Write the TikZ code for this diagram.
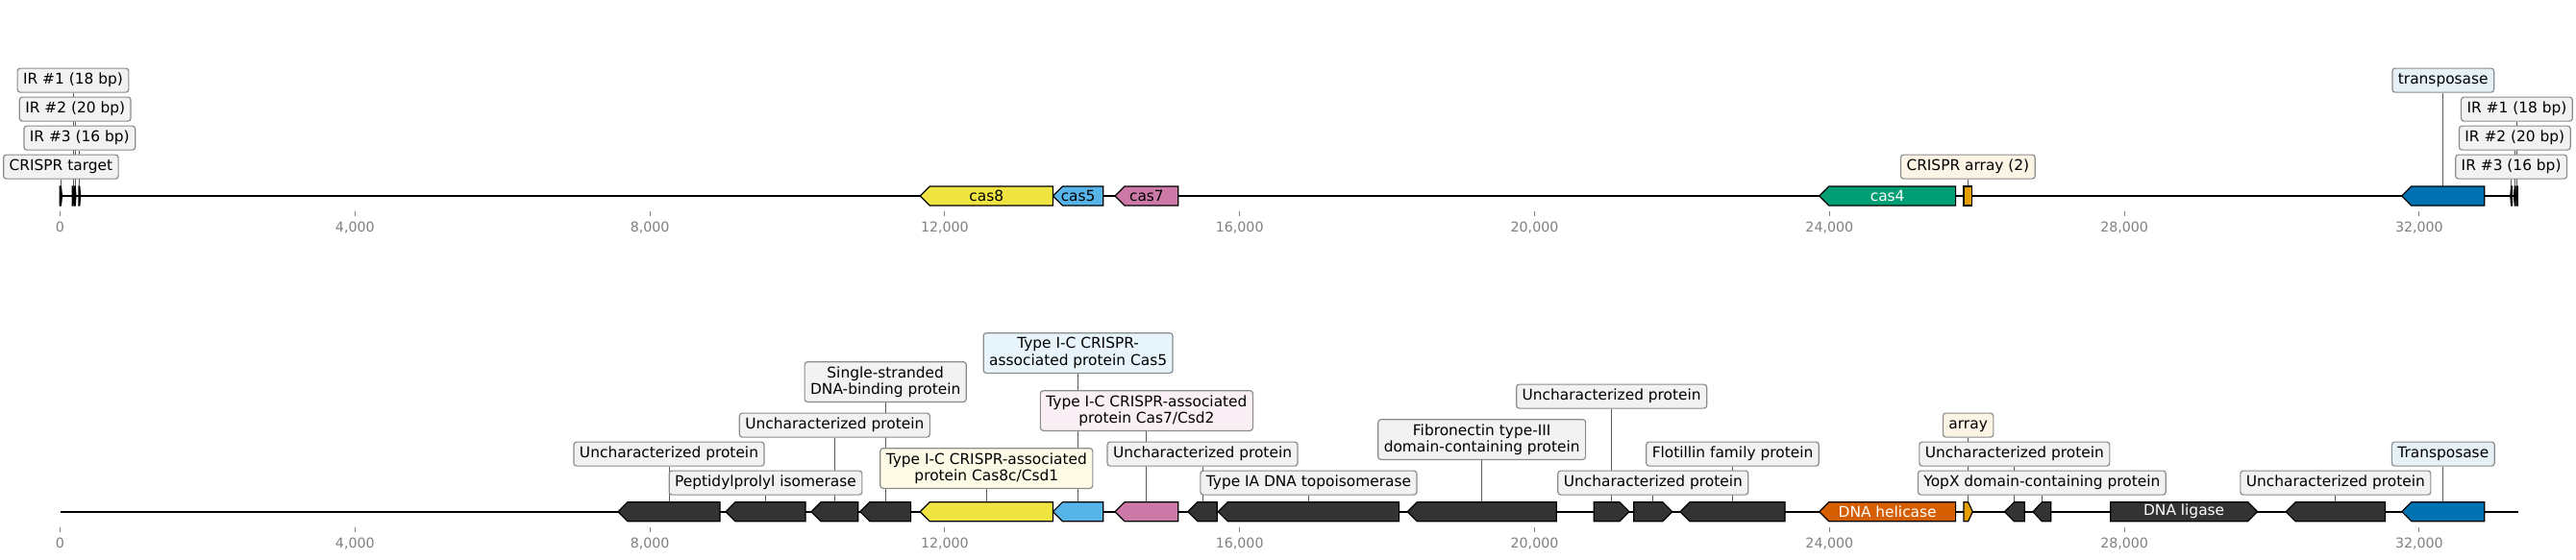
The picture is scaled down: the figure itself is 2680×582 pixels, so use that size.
\documentclass[tikz,border=0pt]{standalone}
\usepackage{fontspec}
\setmainfont{DejaVu Sans}
\definecolor{cyel}{HTML}{F0E442}
\definecolor{cblu}{HTML}{56B4E9}
\definecolor{cpnk}{HTML}{CC79A7}
\definecolor{cgrn}{HTML}{009E73}
\definecolor{cdbl}{HTML}{0072B2}
\definecolor{corg}{HTML}{E69F00}
\definecolor{cver}{HTML}{D55E00}
\definecolor{cdrk}{HTML}{333333}
\definecolor{boxedge}{HTML}{8C8C8C}
\definecolor{boxgray}{HTML}{F2F2F2}
\definecolor{tickgray}{HTML}{808080}
\colorlet{c8bg}{cyel!13!white}
\colorlet{c5bg}{cblu!14!white}
\colorlet{c7bg}{cpnk!12!white}
\colorlet{arrbg}{corg!10!white}
\colorlet{trbg}{cdbl!10!white}
\pgfdeclarelayer{bg}
\pgfdeclarelayer{paper}
\pgfsetlayers{paper,bg,main}
\tikzset{
  labbase/.style={draw=boxedge, line width=1.2pt, rounded corners=3pt, fill=boxgray,
    inner xsep=6pt, inner ysep=0pt, anchor=south, font=\fontsize{15.4}{17.5}\selectfont},
  lab/.style={labbase, minimum height=25pt, text height=11.6pt, text depth=3.6pt},
  labtwo/.style={labbase, minimum height=41.7pt, align=center},
  conn/.style={draw=black!65, line width=0.9pt},
  gene/.style={draw=black, line width=1.2pt, line join=miter},
  gtext/.style={font=\fontsize{15.4}{17.5}\selectfont, inner sep=0pt},
  track/.style={draw=black, line width=2.2pt},
  tickmark/.style={draw=tickgray, line width=0.9pt},
  ticklab/.style={font=\fontsize{14.2}{16}\selectfont, text=tickgray, inner sep=0pt},
}
\newcommand{\geneL}[5]{%
  \pgfmathsetmacro{\ghd}{min(10,0.5*(#3-#2))}%
  \filldraw[gene, fill=#5] (#2,#4) -- ({#2+\ghd},{#4-10}) -- (#3,{#4-10}) -- (#3,{#4+10}) -- ({#2+\ghd},{#4+10}) -- cycle;%
  \coordinate (#1) at ({(#2+#3)/2},{#4-10});%
}
\newcommand{\geneR}[5]{%
  \pgfmathsetmacro{\ghd}{min(10,0.5*(#3-#2))}%
  \filldraw[gene, fill=#5] (#2,{#4-10}) -- ({#3-\ghd},{#4-10}) -- (#3,#4) -- ({#3-\ghd},{#4+10}) -- (#2,{#4+10}) -- cycle;%
  \coordinate (#1) at ({(#2+#3)/2},{#4-10});%
}
\newcommand{\geneN}[5]{%
  \filldraw[gene, fill=#5] (#2,{#4-10}) rectangle (#3,{#4+10});%
  \coordinate (#1) at ({(#2+#3)/2},{#4-10});%
}
\begin{document}
\begin{tikzpicture}[x=1pt, y=-1pt]
\begin{pgfonlayer}{paper}
\fill[white] (0,0) rectangle (2680,582);
\end{pgfonlayer}
\useasboundingbox (0,0) rectangle (2680,582);

% ---------------- top track ----------------
\draw[track] (62.5,204) coordinate (tstart) -- (2619.5,204) coordinate (tend);
\foreach \i/\t in {0/0,1/{4,000},2/{8,000},3/{12,000},4/{16,000},5/{20,000},6/{24,000},7/{28,000},8/{32,000}}{
  \draw[tickmark] ({62.5+\i*306.8},220) -- ({62.5+\i*306.8},225);
  \node[ticklab] (tl\i) at ({62.5+\i*306.8},236.7) {\t};
}
\geneR{gCT}{62.3}{64.5}{204}{black}
\geneR{gIRa}{75.2}{76.8}{204}{black}
\geneR{gIRb}{77.4}{79.0}{204}{black}
\geneR{gIRc}{82.0}{83.6}{204}{black}
\geneL{gT8}{957.2}{1095.4}{204}{cyel}
\geneL{gT5}{1095.4}{1147.8}{204}{cblu}
\geneL{gT7}{1160}{1225.8}{204}{cpnk}
\geneL{gT4}{1892.7}{2034.6}{204}{cgrn}
\geneN{gTA}{2043}{2051.7}{204}{corg}
\geneL{gTT}{2498.8}{2584.7}{204}{cdbl}
\geneL{gIRd}{2611.8}{2613.4}{204}{black}
\geneL{gIRe}{2615.5}{2617.1}{204}{black}
\geneL{gIRf}{2617.6}{2619.2}{204}{black}

\node[gtext] (x8) at ([yshift=-10pt]gT8) {cas8};
\node[gtext] (x5) at ([yshift=-10pt]gT5) {cas5};
\node[gtext] (x7) at ([yshift=-10pt]gT7) {cas7};
\node[gtext, text=white] (x4) at ([yshift=-10pt]gT4) {cas4};

\node[lab] (lCT) at ([yshift=7.3pt]gCT) {CRISPR target};
\node[lab] (lIRc) at ([yshift=37.3pt]gIRc) {IR \#3 (16 bp)};
\node[lab] (lIRb) at ([yshift=67.3pt]gIRb) {IR \#2 (20 bp)};
\node[lab] (lIRa) at ([yshift=97.3pt]gIRa) {IR \#1 (18 bp)};
\node[lab, fill=arrbg] (lTA) at ([yshift=7.3pt]gTA) {CRISPR array (2)};
\node[lab, fill=trbg] (lTT) at ([yshift=97.3pt]gTT) {transposase};
\node[lab] (lIRd) at ([yshift=7.3pt]gIRd) {IR \#3 (16 bp)};
\node[lab] (lIRe) at ([yshift=37.3pt]gIRe) {IR \#2 (20 bp)};
\node[lab] (lIRf) at ([yshift=67.3pt]gIRf) {IR \#1 (18 bp)};

\begin{pgfonlayer}{bg}
\foreach \a/\b in {lCT/gCT,lIRc/gIRc,lIRb/gIRb,lIRa/gIRa,lTA/gTA,lTT/gTT,lIRd/gIRd,lIRe/gIRe,lIRf/gIRf}{
  \draw[conn] (\a.south) -- (\b);
}
\end{pgfonlayer}

% ---------------- bottom track ----------------
\draw[track] (62.5,532.7) coordinate (bstart) -- (2619.5,532.7) coordinate (bend);
\foreach \i/\t in {0/0,1/{4,000},2/{8,000},3/{12,000},4/{16,000},5/{20,000},6/{24,000},7/{28,000},8/{32,000}}{
  \draw[tickmark] ({62.5+\i*306.8},548.7) -- ({62.5+\i*306.8},553.7);
  \node[ticklab] (bl\i) at ({62.5+\i*306.8},565.7) {\t};
}
\geneL{gA}{643}{749}{532.7}{cdrk}
\geneL{gB}{755}{838}{532.7}{cdrk}
\geneL{gC}{844}{892.7}{532.7}{cdrk}
\geneL{gD}{894.8}{947.6}{532.7}{cdrk}
\geneL{gB8}{957.2}{1095.4}{532.7}{cyel}
\geneL{gB5}{1095.4}{1147.8}{532.7}{cblu}
\geneL{gB7}{1160}{1225.8}{532.7}{cpnk}
\geneL{gE}{1235.8}{1266.2}{532.7}{cdrk}
\geneL{gF}{1267.3}{1455.6}{532.7}{cdrk}
\geneL{gG}{1464.2}{1619.2}{532.7}{cdrk}
\geneR{gH}{1658.3}{1695}{532.7}{cdrk}
\geneR{gI}{1699.8}{1739.8}{532.7}{cdrk}
\geneL{gJ}{1748}{1857}{532.7}{cdrk}
\geneL{gHel}{1892.7}{2034.6}{532.7}{cver}
\geneR{gArr}{2043}{2052.3}{532.7}{corg}
\geneL{gK}{2085.5}{2106.2}{532.7}{cdrk}
\geneL{gL}{2115}{2133.7}{532.7}{cdrk}
\geneR{gLig}{2195.7}{2348.6}{532.7}{cdrk}
\geneL{gM}{2378.2}{2481.5}{532.7}{cdrk}
\geneL{gN}{2498.8}{2584.7}{532.7}{cdbl}

\node[gtext, text=white] (xHel) at ([yshift=-10pt]gHel) {DNA helicase};
\node[gtext, text=white] (xLig) at ([yshift=-10pt]gLig) {DNA ligase};

\node[lab] (lA) at ([yshift=37pt]gA) {Uncharacterized protein};
\node[lab] (lB) at ([yshift=7pt]gB) {Peptidylprolyl isomerase};
\node[lab] (lC) at ([yshift=67pt]gC) {Uncharacterized protein};
\node[labtwo] (lD) at ([yshift=103.7pt]gD) {Single-stranded\\DNA-binding protein};
\node[labtwo, fill=c8bg] (lB8) at ([yshift=13.7pt]gB8) {Type I-C CRISPR-associated\\protein Cas8c/Csd1};
\node[labtwo, fill=c5bg] (lB5) at ([yshift=133.7pt]gB5) {Type I-C CRISPR-\\associated protein Cas5};
\node[labtwo, fill=c7bg] (lB7) at ([yshift=73.7pt]gB7) {Type I-C CRISPR-associated\\protein Cas7/Csd2};
\node[lab] (lE) at ([yshift=37pt]gE) {Uncharacterized protein};
\node[lab] (lF) at ([yshift=7pt]gF) {Type IA DNA topoisomerase};
\node[labtwo] (lG) at ([yshift=43.7pt]gG) {Fibronectin type-III\\domain-containing protein};
\node[lab] (lH) at ([yshift=97pt]gH) {Uncharacterized protein};
\node[lab] (lI) at ([yshift=7pt]gI) {Uncharacterized protein};
\node[lab] (lJ) at ([yshift=37pt]gJ) {Flotillin family protein};
\node[lab, fill=arrbg] (lArr) at ([yshift=67pt]gArr) {array};
\node[lab] (lK) at ([yshift=37pt]gK) {Uncharacterized protein};
\node[lab] (lL) at ([yshift=7pt]gL) {YopX domain-containing protein};
\node[lab] (lM) at ([yshift=7pt]gM) {Uncharacterized protein};
\node[lab, fill=trbg] (lN) at ([yshift=37pt]gN) {Transposase};

\begin{pgfonlayer}{bg}
\foreach \a/\b in {lA/gA,lB/gB,lC/gC,lD/gD,lB8/gB8,lB5/gB5,lB7/gB7,lE/gE,lF/gF,lG/gG,lH/gH,lI/gI,lJ/gJ,lArr/gArr,lK/gK,lL/gL,lM/gM,lN/gN}{
  \draw[conn] (\a.south) -- (\b);
}
\end{pgfonlayer}
\end{tikzpicture}
\end{document}
